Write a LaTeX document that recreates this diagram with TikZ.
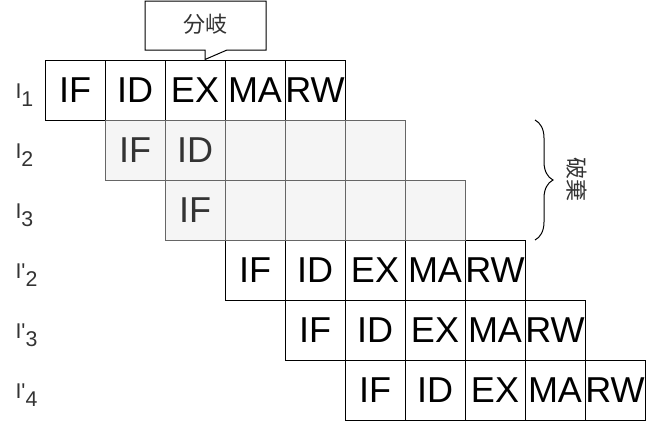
\documentclass[tikz,border=0pt]{standalone}
\usepackage{fontspec}
\setmainfont{Liberation Sans}
\newfontfamily\jpfont{Noto Sans CJK JP}
\usetikzlibrary{positioning,decorations.pathreplacing}
\definecolor{flushfill}{HTML}{F5F5F5}
\definecolor{flushline}{HTML}{666666}
\definecolor{flushtext}{HTML}{333333}
\newcommand{\stagefont}{\fontsize{27pt}{32pt}\selectfont}
\newcommand{\labelfont}{\fontsize{16pt}{19pt}\selectfont}
\newcommand{\notefont}{\jpfont\fontsize{16.5pt}{20pt}\selectfont}
\newcommand{\instr}[2]{I#1\lower6pt\hbox{#2}}
\tikzstyle{stage} = [draw, rectangle, minimum width=45pt, minimum height=45pt, inner sep=0pt, text centered, font=\stagefont]
\tikzstyle{flushed} = [stage, draw=flushline, fill=flushfill, text=flushtext]
\tikzstyle{rowlabel} = [anchor=west, inner sep=0pt, text=flushtext, font=\labelfont]
\tikzstyle{calloutbox} = [draw, fill=white]
\tikzstyle{notelabel} = [text=flushtext, font=\notefont]
\tikzstyle{discardbrace} = [draw, decorate, decoration={brace, amplitude=13.5pt}]

\begin{document}
\begin{tikzpicture}[x=0.75pt, y=-0.75pt, line width=0.75pt, node distance=45pt]
		\useasboundingbox (0,0) rectangle (646,422);
		% row labels
		\node (lbl1) [rowlabel] at (15,95.5) {\instr{}{1}};
		\node (lbl2) [rowlabel] at (15,155.5) {\instr{}{2}};
		\node (lbl3) [rowlabel] at (15,215.5) {\instr{}{3}};
		\node (lbl2p) [rowlabel] at (15,275.5) {\instr{\textquotesingle}{2}};
		\node (lbl3p) [rowlabel] at (15,335.5) {\instr{\textquotesingle}{3}};
		\node (lbl4p) [rowlabel] at (15,395.5) {\instr{\textquotesingle}{4}};
		% branch instruction
		\node (if1) [stage] at (75,90) {IF};
		\node (id1) [stage, right of=if1] {ID};
		\node (ex1) [stage, right of=id1] {EX};
		\node (ma1) [stage, right of=ex1] {MA};
		\node (rw1) [stage, right of=ma1] {RW};
		% refetched instructions
		\node (if2p) [stage] at (255,270) {IF};
		\node (id2p) [stage, right of=if2p] {ID};
		\node (ex2p) [stage, right of=id2p] {EX};
		\node (ma2p) [stage, right of=ex2p] {MA};
		\node (rw2p) [stage, right of=ma2p] {RW};
		\node (if3p) [stage, below of=id2p] {IF};
		\node (id3p) [stage, right of=if3p] {ID};
		\node (ex3p) [stage, right of=id3p] {EX};
		\node (ma3p) [stage, right of=ex3p] {MA};
		\node (rw3p) [stage, right of=ma3p] {RW};
		\node (if4p) [stage, below of=id3p] {IF};
		\node (id4p) [stage, right of=if4p] {ID};
		\node (ex4p) [stage, right of=id4p] {EX};
		\node (ma4p) [stage, right of=ex4p] {MA};
		\node (rw4p) [stage, right of=ma4p] {RW};
		% flushed instructions
		\node (if2) [flushed, below of=id1] {IF};
		\node (id2) [flushed, right of=if2] {ID};
		\node (ex2) [flushed, right of=id2] {};
		\node (ma2) [flushed, right of=ex2] {};
		\node (rw2) [flushed, right of=ma2] {};
		\node (if3) [flushed, below of=id2] {IF};
		\node (id3) [flushed, right of=if3] {};
		\node (ex3) [flushed, right of=id3] {};
		\node (ma3) [flushed, right of=ex3] {};
		\node (rw3) [flushed, right of=ma3] {};
		% callout
		\coordinate (branchtip) at ([xshift=7.5pt]ex1.north);
		\draw [calloutbox] (145,1) -- (266,1) -- (266,50) -- (227,50) -- (branchtip) -- (205,50) -- (145,50) -- cycle;
		\node (branch) [notelabel] at (205,24) {分岐};
		% discarded
		\coordinate (flushtop) at (535,120);
		\coordinate (flushbot) at (535,240);
		\draw [discardbrace] (flushtop) -- (flushbot);
		\node (discard) [notelabel, rotate=-90] at (577,179) {破棄};
	\end{tikzpicture}
\end{document}
